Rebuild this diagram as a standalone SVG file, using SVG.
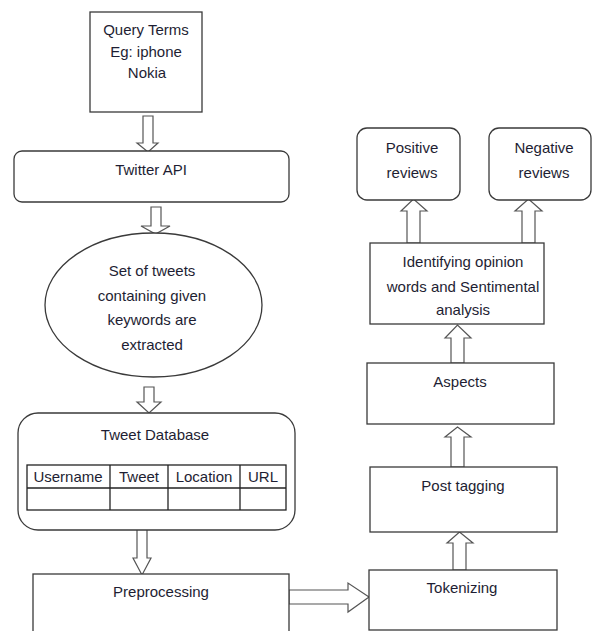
<svg xmlns="http://www.w3.org/2000/svg" width="592" height="631" viewBox="0 0 592 631">
<style>
.box{fill:#fff;stroke:#3a3a3a;stroke-width:1.3}
.arr{fill:#fff;stroke:#555;stroke-width:1.2;stroke-linejoin:miter}
.t{font-family:"Liberation Sans",Arial,sans-serif;font-size:15px;fill:#1e1e33;text-anchor:middle}
.tbl{fill:none;stroke:#222;stroke-width:1.3}
</style>
<rect width="592" height="631" fill="#fff"/>
<g id="connectors">
<polygon class="arr" points="143,116 153,116 153,143 158,143 148,152 137,143 143,143"/>
<polygon class="arr" points="151,207 161,207 161,226 170,226 155.5,234 141,226 151,226"/>
<polygon class="arr" points="144,387 154,387 154,402 161,402 149,413 137,402 144,402"/>
<polygon class="arr" points="137,511 147,511 147,558 151,558 142,575 133,558 137,558"/>
<polygon class="arr" points="289,590 348,590 348,583 369,597 348,612 348,604 289,604"/>
<polygon class="arr" points="453,570 466,570 466,543 473,543 459.5,532 447,543 453,543"/>
<polygon class="arr" points="451,467 464,467 464,437 471,437 457.5,427 445,437 451,437"/>
<polygon class="arr" points="451,363 464,363 464,338 471,338 457.5,325 445,338 451,338"/>
<polygon class="arr" points="407,243 420,243 420,211 427,211 413.5,199 401,211 407,211"/>
<polygon class="arr" points="522,243 535,243 535,211 542,211 528.5,199 515,211 522,211"/>
</g>
<g id="query">
<rect class="box" x="90" y="12" width="112" height="100"/>
<text class="t" x="146" y="35">Query Terms</text>
<text class="t" x="146" y="57">Eg: iphone</text>
<text class="t" x="147" y="78">Nokia</text>
</g>
<g id="twitter-api">
<rect class="box" x="14" y="151" width="275" height="51" rx="8"/>
<text class="t" x="151" y="175">Twitter API</text>
</g>
<g id="tweets">
<ellipse class="box" cx="153.5" cy="305" rx="108.5" ry="72"/>
<text class="t" x="152" y="276">Set of tweets</text>
<text class="t" x="152" y="301">containing given</text>
<text class="t" x="152" y="325">keywords are</text>
<text class="t" x="152" y="350">extracted</text>
</g>
<g id="tweet-db">
<rect class="box" x="18" y="413" width="277" height="117" rx="20"/>
<text class="t" x="155" y="440">Tweet Database</text>
<rect class="tbl" x="27" y="465" width="259" height="45"/>
<line class="tbl" x1="27" y1="488" x2="286" y2="488"/>
<line class="tbl" x1="110" y1="465" x2="110" y2="510"/>
<line class="tbl" x1="168" y1="465" x2="168" y2="510"/>
<line class="tbl" x1="240" y1="465" x2="240" y2="510"/>
<text class="t" x="68" y="482">Username</text>
<text class="t" x="139" y="482">Tweet</text>
<text class="t" x="204" y="482">Location</text>
<text class="t" x="263" y="482">URL</text>
</g>
<g id="preprocessing">
<rect class="box" x="33" y="574" width="256" height="70"/>
<text class="t" x="161" y="597">Preprocessing</text>
</g>
<g id="tokenizing">
<rect class="box" x="369" y="570" width="188" height="60"/>
<text class="t" x="462" y="593">Tokenizing</text>
</g>
<g id="post-tagging">
<rect class="box" x="370" y="467" width="187" height="65"/>
<text class="t" x="463" y="491">Post tagging</text>
</g>
<g id="aspects">
<rect class="box" x="367" y="363" width="187" height="61"/>
<text class="t" x="460" y="387">Aspects</text>
</g>
<g id="identifying">
<rect class="box" x="370" y="243" width="174" height="81"/>
<text class="t" x="463" y="267">Identifying opinion</text>
<text class="t" x="463" y="292">words and Sentimental</text>
<text class="t" x="463" y="315">analysis</text>
</g>
<g id="positive">
<rect class="box" x="357" y="128" width="103" height="72" rx="10"/>
<text class="t" x="412" y="153">Positive</text>
<text class="t" x="412" y="178">reviews</text>
</g>
<g id="negative">
<rect class="box" x="489" y="128" width="102" height="72" rx="10"/>
<text class="t" x="544" y="153">Negative</text>
<text class="t" x="544" y="178">reviews</text>
</g>
</svg>
